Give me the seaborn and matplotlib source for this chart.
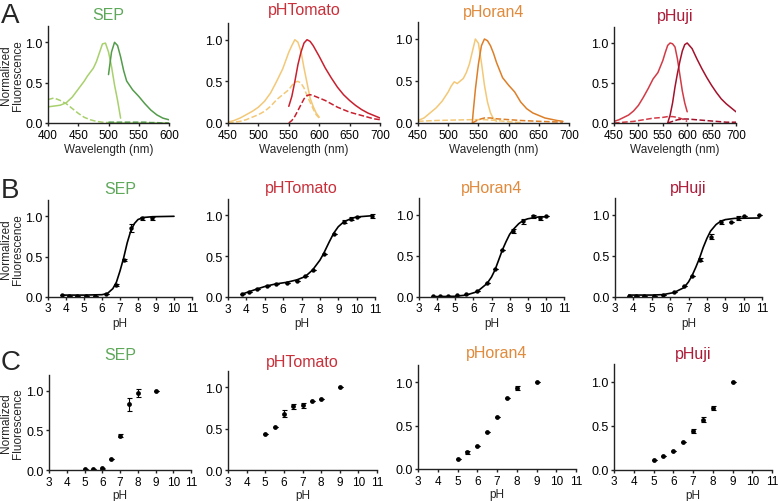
import matplotlib.pyplot as plt
import seaborn as sns

# ---- names / colours ----
names = ['SEP', 'pHTomato', 'pHoran4', 'pHuji']
title_colors = ['#5ea85a', '#c8303a', '#e08a3c', '#ad1a38']
ex_colors = ['#a8d06c', '#f3c877', '#f3c877', '#d23a46']
em_colors = ['#539c4b', '#c8202e', '#dd7f28', '#a3122c']

# ---- A: spectra (wavelength, normalized fluorescence) ----
sep_ex_wl = [400, 410, 420, 430, 440, 450, 460, 465, 470, 475, 480, 485, 490, 495, 500, 505, 510, 515, 520]
sep_ex_hi = [0.20, 0.21, 0.22, 0.25, 0.32, 0.42, 0.52, 0.58, 0.63, 0.68, 0.76, 0.87, 0.98, 0.99, 0.88, 0.70, 0.47, 0.28, 0.06]
sep_ex_lo_wl = [400, 410, 420, 430, 440, 450, 460, 470, 480, 490, 500, 520, 550, 600]
sep_ex_lo = [0.29, 0.31, 0.28, 0.24, 0.18, 0.12, 0.07, 0.04, 0.02, 0.01, 0.005, 0.0, 0.0, 0.0]
sep_em_wl = [500, 505, 510, 515, 520, 525, 530, 540, 550, 560, 570, 580, 590, 600]
sep_em_hi = [0.60, 0.88, 1.00, 0.96, 0.82, 0.65, 0.52, 0.41, 0.33, 0.24, 0.16, 0.10, 0.06, 0.04]
sep_em_lo = [0.01, 0.01, 0.01, 0.01, 0.01, 0.01, 0.01, 0.01, 0.01, 0.01, 0.005, 0.005, 0.0, 0.0]

pht_ex_wl = [450, 460, 470, 480, 490, 500, 510, 520, 530, 540, 550, 555, 560, 565, 570, 575, 580, 585, 590, 595, 600]
pht_ex_hi = [0.01, 0.03, 0.06, 0.10, 0.14, 0.19, 0.26, 0.36, 0.50, 0.65, 0.85, 0.93, 1.00, 0.97, 0.86, 0.66, 0.48, 0.30, 0.20, 0.12, 0.07]
pht_ex_lo = [0.0, 0.01, 0.02, 0.04, 0.07, 0.10, 0.14, 0.20, 0.28, 0.34, 0.40, 0.45, 0.49, 0.50, 0.48, 0.42, 0.33, 0.25, 0.17, 0.10, 0.06]
pht_em_wl = [550, 555, 560, 565, 570, 575, 580, 585, 590, 600, 610, 620, 630, 640, 650, 660, 670, 680, 690, 700]
pht_em_hi = [0.20, 0.32, 0.50, 0.70, 0.85, 0.96, 1.00, 0.98, 0.93, 0.80, 0.66, 0.54, 0.43, 0.34, 0.27, 0.21, 0.16, 0.12, 0.09, 0.06]
pht_em_lo = [0.0, 0.03, 0.08, 0.15, 0.22, 0.29, 0.33, 0.34, 0.33, 0.30, 0.27, 0.23, 0.19, 0.16, 0.13, 0.11, 0.09, 0.07, 0.05, 0.04]

pho_ex_wl = [450, 460, 470, 480, 490, 500, 505, 510, 515, 520, 525, 530, 535, 540, 545, 550, 555, 560, 565, 570, 575, 580]
pho_ex_hi = [0.03, 0.06, 0.12, 0.18, 0.26, 0.37, 0.44, 0.49, 0.47, 0.50, 0.53, 0.60, 0.70, 0.85, 1.00, 0.95, 0.72, 0.45, 0.25, 0.12, 0.05, 0.02]
pho_ex_lo_wl = [450, 480, 510, 540, 560, 580, 600, 620]
pho_ex_lo = [0.02, 0.03, 0.035, 0.04, 0.04, 0.03, 0.015, 0.005]
pho_em_wl = [540, 541, 545, 550, 555, 560, 565, 570, 575, 580, 590, 600, 610, 620, 630, 640, 650, 660, 670, 680, 690]
pho_em_hi = [0.0, 0.10, 0.40, 0.70, 0.92, 1.00, 0.98, 0.92, 0.83, 0.72, 0.54, 0.45, 0.37, 0.25, 0.17, 0.12, 0.09, 0.06, 0.045, 0.03, 0.02]
pho_em_lo_wl = [540, 550, 560, 570, 580, 600, 620, 650, 690]
pho_em_lo = [0.0, 0.04, 0.06, 0.06, 0.05, 0.04, 0.03, 0.02, 0.01]

phu_ex_wl = [450, 460, 470, 480, 490, 500, 510, 520, 530, 540, 550, 555, 560, 565, 570, 575, 580, 585, 590, 595, 600]
phu_ex_hi = [0.02, 0.04, 0.07, 0.10, 0.15, 0.22, 0.32, 0.43, 0.55, 0.63, 0.78, 0.88, 0.97, 1.00, 0.99, 0.95, 0.80, 0.60, 0.40, 0.25, 0.14]
phu_ex_lo = [0.0, 0.005, 0.01, 0.015, 0.02, 0.03, 0.04, 0.05, 0.06, 0.065, 0.07, 0.075, 0.08, 0.08, 0.08, 0.075, 0.07, 0.06, 0.05, 0.035, 0.02]
phu_em_wl = [560, 565, 570, 575, 580, 585, 590, 595, 600, 610, 620, 630, 640, 650, 660, 670, 680, 690, 700]
phu_em_hi = [0.0, 0.10, 0.25, 0.45, 0.62, 0.77, 0.90, 0.98, 1.00, 0.93, 0.80, 0.68, 0.57, 0.47, 0.38, 0.30, 0.24, 0.19, 0.14]
phu_em_lo = [0.0, 0.01, 0.02, 0.03, 0.04, 0.045, 0.05, 0.05, 0.05, 0.045, 0.04, 0.035, 0.03, 0.025, 0.02, 0.015, 0.01, 0.01, 0.01]

# ---- B: pH titration (points + fitted curve) ----
ph_b = [3.75, 4.15, 4.6, 5.1, 5.6, 6.2, 6.75, 7.2, 7.6, 8.2, 8.75, 9.3, 9.7, 10.0, 10.85]
sep_b = [0.02, 0.012, 0.012, 0.012, 0.012, 0.03, 0.145, 0.455, 0.85, 0.975, 0.975]
sep_b_err = [0, 0, 0, 0, 0, 0, 0.01, 0.01, 0.05, 0.02, 0.02]
pht_b = [0.033, 0.06, 0.10, 0.14, 0.16, 0.175, 0.20, 0.26, 0.33, 0.53, 0.77, 0.92, 0.96, 0.98, 0.99]
pht_b_err = [0, 0, 0, 0, 0, 0, 0, 0, 0, 0, 0, 0.02, 0.02, 0, 0.02]
pho_b = [0.004, 0.004, 0.008, 0.016, 0.03, 0.07, 0.17, 0.34, 0.57, 0.80, 0.92, 0.98, 0.96, 0.99]
pho_b_err = [0, 0, 0, 0, 0, 0, 0, 0, 0, 0.02, 0.03, 0.02, 0.02, 0]
phu_b = [0.008, 0.004, 0.008, 0.008, 0.016, 0.057, 0.134, 0.256, 0.45, 0.73, 0.91, 0.91, 0.96, 0.98, 1.0]
phu_b_err = [0, 0, 0, 0, 0, 0, 0, 0, 0.02, 0.03, 0.02, 0, 0.02, 0, 0]

sep_fit_ph = [3.75, 5.0, 6.0, 6.3, 6.6, 6.8, 7.0, 7.2, 7.4, 7.6, 7.8, 8.0, 8.3, 8.8, 10.0]
sep_fit = [0.02, 0.02, 0.025, 0.04, 0.10, 0.18, 0.32, 0.48, 0.67, 0.82, 0.91, 0.96, 0.985, 0.995, 1.0]
pht_fit_ph = [3.75, 4.15, 4.6, 5.1, 5.6, 6.2, 6.75, 7.2, 7.6, 8.0, 8.2, 8.5, 8.75, 9.0, 9.3, 9.7, 10.0, 10.85]
pht_fit = [0.035, 0.065, 0.10, 0.135, 0.16, 0.18, 0.21, 0.25, 0.33, 0.45, 0.53, 0.67, 0.78, 0.86, 0.92, 0.96, 0.98, 0.995]
pho_fit_ph = [3.75, 5.0, 5.6, 6.2, 6.75, 7.0, 7.2, 7.4, 7.6, 7.8, 8.0, 8.2, 8.5, 8.75, 9.0, 9.5, 10.0]
pho_fit = [0.0, 0.005, 0.02, 0.06, 0.16, 0.24, 0.33, 0.45, 0.57, 0.67, 0.76, 0.82, 0.89, 0.93, 0.95, 0.97, 0.975]
phu_fit_ph = [3.75, 5.0, 5.6, 6.2, 6.75, 7.0, 7.2, 7.4, 7.6, 7.8, 8.0, 8.2, 8.5, 8.75, 9.0, 9.5, 10.85]
phu_fit = [0.02, 0.02, 0.025, 0.05, 0.11, 0.18, 0.26, 0.36, 0.47, 0.60, 0.71, 0.80, 0.88, 0.92, 0.94, 0.955, 0.96]

# ---- C: pH response in cells ----
ph_c = [5, 5.5, 6, 6.5, 7, 7.5, 8, 9]
sep_c = [0.01, 0.01, 0.02, 0.14, 0.43, 0.83, 0.97, 1.0]
sep_c_err = [0, 0, 0.01, 0, 0.02, 0.08, 0.05, 0]
pht_c = [0.435, 0.525, 0.68, 0.77, 0.785, 0.83, 0.86, 1.0]
pht_c_err = [0, 0, 0.04, 0.03, 0.03, 0, 0, 0]
pho_c = [0.12, 0.19, 0.27, 0.43, 0.60, 0.82, 0.93, 1.0]
pho_c_err = [0, 0.02, 0, 0, 0, 0, 0.02, 0]
phu_c = [0.106, 0.155, 0.21, 0.32, 0.44, 0.57, 0.70, 1.0]
phu_c_err = [0, 0, 0, 0, 0.02, 0.03, 0.02, 0]

spectra = [
    [(sep_ex_wl, sep_ex_hi, 0, '-'), (sep_ex_lo_wl, sep_ex_lo, 0, '--'),
     (sep_em_wl, sep_em_hi, 1, '-'), (sep_em_wl, sep_em_lo, 1, '--')],
    [(pht_ex_wl, pht_ex_hi, 0, '-'), (pht_ex_wl, pht_ex_lo, 0, '--'),
     (pht_em_wl, pht_em_hi, 1, '-'), (pht_em_wl, pht_em_lo, 1, '--')],
    [(pho_ex_wl, pho_ex_hi, 0, '-'), (pho_ex_lo_wl, pho_ex_lo, 0, '--'),
     (pho_em_wl, pho_em_hi, 1, '-'), (pho_em_lo_wl, pho_em_lo, 1, '--')],
    [(phu_ex_wl, phu_ex_hi, 0, '-'), (phu_ex_wl, phu_ex_lo, 0, '--'),
     (phu_em_wl, phu_em_hi, 1, '-'), (phu_em_wl, phu_em_lo, 1, '--')],
]
titr = [(sep_b, sep_b_err, sep_fit_ph, sep_fit), (pht_b, pht_b_err, pht_fit_ph, pht_fit),
        (pho_b, pho_b_err, pho_fit_ph, pho_fit), (phu_b, phu_b_err, phu_fit_ph, phu_fit)]
cells = [(sep_c, sep_c_err), (pht_c, pht_c_err), (pho_c, pho_c_err), (phu_c, phu_c_err)]

sns.set_theme(style='ticks')
plt.rcParams['font.family'] = ['Liberation Sans', 'DejaVu Sans']
plt.rcParams.update({'axes.linewidth': 1.0, 'xtick.major.size': 2.5, 'ytick.major.size': 2.5,
                     'xtick.major.width': 1.0, 'ytick.major.width': 1.0,
                     'xtick.labelsize': 8.5, 'ytick.labelsize': 9,
                     'xtick.major.pad': 1.5, 'ytick.major.pad': 1.5,
                     'axes.edgecolor': '#222222'})

W, H = 778, 502
fig = plt.figure(figsize=(W / 100, H / 100), dpi=100)

# pixel boxes: left, right, y of 0.0, y of 1.0
boxes = {
    'A': [(48, 169, 124, 43.3), (228, 380, 124, 40.7), (418, 569, 124, 40), (614, 736, 124, 44)],
    'B': [(48, 192, 297.7, 217.3), (228, 375, 298, 216.3), (419, 564, 297.7, 215.7), (615, 762, 297.7, 215.7)],
    'C': [(49, 191, 471, 391.7), (228, 377, 471, 388.3), (418, 576, 470, 383), (614, 772, 470.7, 382.7)],
}
title_y = {'A': [14, 10, 11, 16], 'B': [188, 187.5, 187.5, 188], 'C': [354, 361, 352.5, 354]}
letter_y = {'A': 23, 'B': 198, 'C': 370}


def make_ax(box):
    l, r, y0, y1 = box
    top = y0 - 1.2 * (y0 - y1)
    ax = fig.add_axes([l / W, 1 - y0 / H, (r - l) / W, (y0 - top) / H])
    ax.set_ylim(0, 1.2)
    ax.set_yticks([0, 0.5, 1.0])
    ax.set_yticklabels(['0.0', '0.5', '1.0'])
    sns.despine(ax=ax)
    ax.tick_params(colors='#222222', labelcolor='black')
    return ax


for row in ['A', 'B', 'C']:
    for i in range(4):
        box = boxes[row][i]
        ax = make_ax(box)
        if row == 'A':
            for wl, val, kind, ls in spectra[i]:
                col = ex_colors[i] if kind == 0 else em_colors[i]
                sns.lineplot(x=wl, y=val, ax=ax, color=col, lw=1.1, linestyle=ls)
            if i == 0:
                ax.set_xlim(400, 600)
                ax.set_xticks([400, 450, 500, 550, 600])
            else:
                ax.set_xlim(450, 700)
                ax.set_xticks([450, 500, 550, 600, 650, 700])
            ax.set_xlabel('Wavelength (nm)', fontsize=8.5, labelpad=2)
        elif row == 'B':
            vals, err, fx, fy = titr[i]
            x = ph_b[:len(vals)]
            sns.lineplot(x=fx, y=fy, ax=ax, color='black', lw=1.2)
            ax.errorbar(x, vals, yerr=err, fmt='none', ecolor='black', elinewidth=0.8, capsize=1.8, capthick=0.8)
            sns.scatterplot(x=x, y=vals, ax=ax, color='black', s=10, linewidth=0)
            ax.set_xlim(3, 11)
            ax.set_xticks(range(3, 12))
            ax.set_xlabel('pH', fontsize=8.5, labelpad=2)
        else:
            vals, err = cells[i]
            ax.errorbar(ph_c, vals, yerr=err, fmt='none', ecolor='black', elinewidth=0.8, capsize=1.8, capthick=0.8)
            sns.scatterplot(x=ph_c, y=vals, ax=ax, color='black', s=12, linewidth=0)
            ax.set_xlim(3, 11)
            ax.set_xticks(range(3, 12))
            ax.set_xlabel('pH', fontsize=8.5, labelpad=1)
        ax.set_ylabel('')
        cx = (box[0] + box[1]) / 2
        fig.text(cx / W, 1 - (title_y[row][i] + 5.5) / H, names[i], color=title_colors[i],
                 fontsize=11.5, ha='center', va='baseline')
    fig.text(12 / W, 1 - (boxes[row][0][2] - 0.6 * (boxes[row][0][2] - boxes[row][0][3])) / H,
             'Normalized\nFluorescence', rotation=90, ha='center', va='center',
             fontsize=8.5, linespacing=1.0)
    fig.text(1 / W, 1 - letter_y[row] / H, row, fontsize=20, ha='left', va='baseline')

fig.savefig('out.png', dpi=100)
